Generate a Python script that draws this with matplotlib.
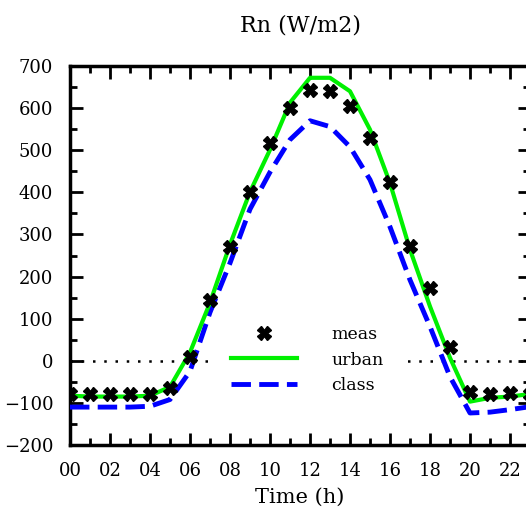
import matplotlib
matplotlib.use("Agg")
import matplotlib.pyplot as plt
from matplotlib.ticker import MultipleLocator

# hourly values of net radiation
hours = list(range(24))
meas = [-80, -80, -80, -80, -80, -65, 8, 145, 270, 400, 518, 600,
        643, 641, 606, 530, 425, 273, 173, 33, -73, -80, -76, -80]
urban = [-83, -85, -85, -85, -83, -62, 20, 138, 276, 401, 501, 613,
         672, 672, 640, 549, 422, 264, 129, 7, -97, -88, -85, -79]
classic = [-110, -110, -110, -110, -108, -92, -25, 115, 232, 360, 448, 525,
           570, 556, 508, 430, 318, 192, 81, -38, -124, -122, -116, -109]
xticks = list(range(0, 23, 2))
xtick_labels = [f"{h:02d}" for h in xticks]

plt.rcParams['font.family'] = ['DejaVu Serif']

fig = plt.figure(figsize=(5.26, 5.11), dpi=100)
ax = fig.add_axes([70 / 526, 66 / 511, 460 / 526, 379 / 511])

ax.axhline(0, color="black", linestyle=(0, (1, 3.5)), linewidth=1.8, zorder=2)

ax.plot(hours, meas, linestyle="none", marker="X", markersize=9.5,
        color="black", label="meas", zorder=5)
ax.plot(hours, urban, color="#00f000", linewidth=3, label="urban", zorder=4)
ax.plot(hours, classic, color="#0000ff", linewidth=3.5, dashes=(4, 1.7),
        label="class", zorder=3)

ax.set_xlim(0, 23)
ax.set_ylim(-200, 700)
ax.set_xticks(xticks)
ax.set_xticklabels(xtick_labels)
ax.xaxis.set_minor_locator(MultipleLocator(1))
ax.yaxis.set_major_locator(MultipleLocator(100))
ax.yaxis.set_minor_locator(MultipleLocator(50))

ax.tick_params(which="both", direction="in", top=True, right=True,
               labelsize=13, width=2)
ax.tick_params(which="major", length=9, pad=12)
ax.tick_params(which="minor", length=5)
for spine in ax.spines.values():
    spine.set_linewidth(2.5)

ax.set_title("Rn (W/m2)", fontsize=16, pad=25)
ax.set_xlabel("Time (h)", fontsize=15, labelpad=6)

leg = ax.legend(loc="center left", bbox_to_anchor=(140 / 460, 85 / 379),
                borderaxespad=0, borderpad=1.2, frameon=True, fontsize=12.5,
                handlelength=3.8, handletextpad=2.0, labelspacing=0.5,
                fancybox=False)
leg.get_frame().set_edgecolor("none")
leg.get_frame().set_facecolor("white")
leg.get_frame().set_alpha(1)
leg.set_zorder(2.5)

fig.savefig("out.png", dpi=100)
